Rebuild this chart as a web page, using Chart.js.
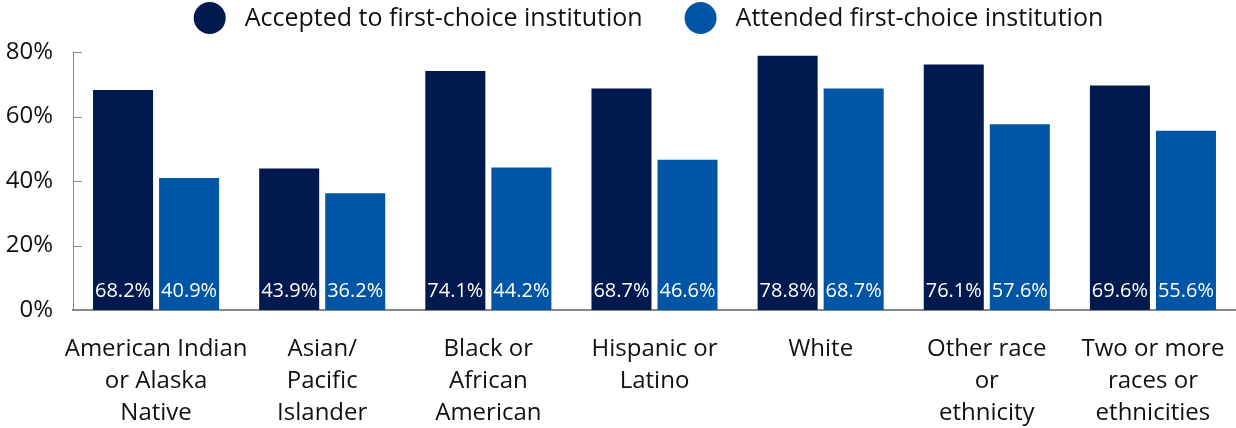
<!DOCTYPE html>
<html>
<head>
<meta charset="utf-8">
<script src="https://cdn.jsdelivr.net/npm/chart.js@4/dist/chart.umd.min.js"></script>
<style>
  html, body { margin: 0; padding: 0; background: #fff; }
  canvas { display: block; }
</style>
</head>
<body>
<canvas id="firstChoiceChart" width="1236" height="428"></canvas>
<script>
// Categories, series and tick labels
const categories = [
  ['American Indian', 'or Alaska', 'Native'],
  ['Asian/', 'Pacific', 'Islander'],
  ['Black or', 'African', 'American'],
  ['Hispanic or', 'Latino'],
  ['White'],
  ['Other race', 'or', 'ethnicity'],
  ['Two or more', 'races or', 'ethnicities']
];
const acceptedValues = [68.2, 43.9, 74.1, 68.7, 78.8, 76.1, 69.6];
const attendedValues = [40.9, 36.2, 44.2, 46.6, 68.7, 57.6, 55.6];
const seriesNames = ['Accepted to first-choice institution', 'Attended first-choice institution'];
const yTicks = [0, 20, 40, 60, 80];

const NAVY = '#00194e';
const BLUE = '#0056a4';
const AXIS = '#888888';
const FONT = "'Open Sans', sans-serif";

// Short tick marks pointing into the plot from the y axis line
const inwardTicks = {
  id: 'inwardTicks',
  afterDraw(chart) {
    const { ctx, scales: { y } } = chart;
    ctx.save();
    ctx.strokeStyle = AXIS;
    ctx.lineWidth = 1;
    yTicks.forEach(v => {
      const py = Math.round(y.getPixelForValue(v)) + 0.5;
      ctx.beginPath();
      ctx.moveTo(y.right, py);
      ctx.lineTo(y.right + 9, py);
      ctx.stroke();
    });
    ctx.restore();
  }
};

// Value labels at the foot of each bar
const barValues = {
  id: 'barValues',
  afterDatasetsDraw(chart) {
    const { ctx, chartArea } = chart;
    ctx.save();
    ctx.fillStyle = '#ffffff';
    ctx.font = `20px ${FONT}`;
    ctx.textAlign = 'center';
    ctx.textBaseline = 'middle';
    chart.data.datasets.forEach((ds, i) => {
      chart.getDatasetMeta(i).data.forEach((bar, j) => {
        ctx.fillText(ds.data[j].toFixed(1) + '%', bar.x, chartArea.bottom - 19);
      });
    });
    ctx.restore();
  }
};

// Legend row with filled circles above the plot
const topLegend = {
  id: 'topLegend',
  afterDraw(chart) {
    const { ctx, chartArea } = chart;
    const r = 16, textGap = 19, itemGap = 42, cy = 18;
    ctx.save();
    ctx.font = `25px ${FONT}`;
    ctx.textBaseline = 'middle';
    const items = chart.data.datasets.map(ds => ({
      label: ds.label,
      color: ds.backgroundColor,
      w: 2 * r + textGap + ctx.measureText(ds.label).width
    }));
    const total = items.reduce((s, it) => s + it.w, 0) + itemGap * (items.length - 1);
    let x = (chartArea.left + chartArea.right) / 2 - 6 - total / 2;
    items.forEach(it => {
      ctx.fillStyle = it.color;
      ctx.beginPath();
      ctx.arc(x + r, cy, r, 0, Math.PI * 2);
      ctx.fill();
      ctx.fillStyle = '#111111';
      ctx.textAlign = 'left';
      ctx.fillText(it.label, x + 2 * r + textGap, cy + 1);
      x += it.w + itemGap;
    });
    ctx.restore();
  }
};

const ctx = document.getElementById('firstChoiceChart').getContext('2d');
new Chart(ctx, {
  type: 'bar',
  data: {
    labels: categories,
    datasets: [
      {
        label: seriesNames[0],
        data: acceptedValues,
        backgroundColor: NAVY,
        categoryPercentage: 0.795,
        barPercentage: 0.909
      },
      {
        label: seriesNames[1],
        data: attendedValues,
        backgroundColor: BLUE,
        categoryPercentage: 0.795,
        barPercentage: 0.909
      }
    ]
  },
  options: {
    responsive: false,
    animation: false,
    layout: {
      padding: { top: 52, right: 0, left: 0, bottom: 0 }
    },
    plugins: {
      legend: { display: false },
      tooltip: { enabled: false }
    },
    scales: {
      x: {
        afterFit(scale) {
          scale.height = 118;
          scale.paddingLeft = 0;
          scale.paddingRight = 0;
        },
        grid: { display: false, drawTicks: false },
        border: { display: true, color: AXIS, width: 2 },
        ticks: {
          color: '#111111',
          padding: 23,
          maxRotation: 0,
          autoSkip: false,
          font: { family: FONT, size: 24, lineHeight: 1.33 }
        }
      },
      y: {
        min: 0,
        max: 80,
        afterFit(scale) { scale.width = 73; },
        afterBuildTicks(scale) { scale.ticks = yTicks.map(v => ({ value: v })); },
        grid: { display: false, drawTicks: false },
        border: { display: true, color: AXIS, width: 1 },
        ticks: {
          color: '#111111',
          padding: 20,
          font: { family: FONT, size: 24 },
          callback: v => v + '%'
        }
      }
    }
  },
  plugins: [inwardTicks, barValues, topLegend]
});
</script>
</body>
</html>
